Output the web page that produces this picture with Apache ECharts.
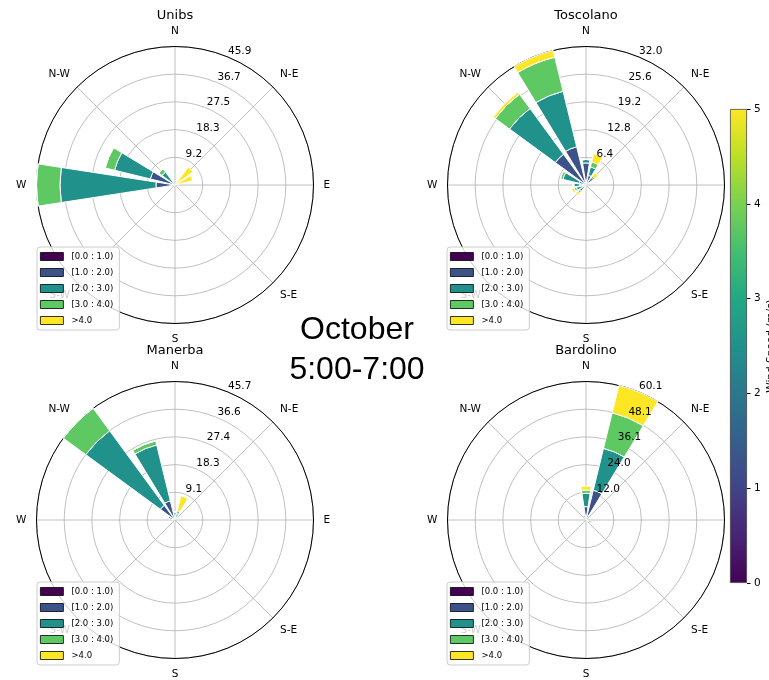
<!DOCTYPE html>
<html>
<head>
<meta charset="utf-8">
<script src="https://cdn.jsdelivr.net/npm/echarts@6/dist/echarts.min.js"></script>
<style>
  html, body { margin: 0; padding: 0; background: #fff; }
  #chart { width: 769px; height: 680px; }
</style>
</head>
<body>
<div id="chart"></div>
<script>
// 16 sectors, clockwise from north
const directions = ["N", "NNE", "NE", "ENE", "E", "ESE", "SE", "SSE",
  "S", "SSW", "SW", "WSW", "W", "WNW", "NW", "NNW"];
const compassLabels = ["N", "N-E", "E", "S-E", "S", "S-W", "W", "N-W"];
const speedBins = ["[0.0 : 1.0)", "[1.0 : 2.0)", "[2.0 : 3.0)", "[3.0 : 4.0)", ">4.0"];
const colorbarTicks = [0, 1, 2, 3, 4, 5];

const stations = ["Unibs", "Toscolano", "Manerba", "Bardolino"];
const radialMax = [45.85, 32.0, 45.7, 60.1];
const radialLabels = [
  ["9.2", "18.3", "27.5", "36.7", "45.9"],
  ["6.4", "12.8", "19.2", "25.6", "32.0"],
  ["9.1", "18.3", "27.4", "36.6", "45.7"],
  ["12.0", "24.0", "36.1", "48.1", "60.1"],
];

// frequency (%) per speed bin (rows) and direction (columns)
const unibs = [
  [0, 0, 0, 0, 0, 0, 0, 0, 0, 0, 0, 0, 0.3, 0.2, 0.1, 0],
  [0, 0, 0, 0, 0, 0, 0, 0, 0, 0, 0, 0, 6.0, 8.2, 0.6, 0],
  [0, 0, 0, 0, 0, 0, 0, 0, 0, 0, 0, 0, 31.8, 12.2, 4.6, 0],
  [0, 0, 0, 0, 0, 0, 0, 0, 0, 0, 0, 0, 7.75, 3.2, 1.4, 0],
  [0, 0, 7.4, 6.0, 0, 0, 0, 0, 0, 0, 0, 0, 0, 0, 0, 0],
];
const toscolano = [
  [0.2, 0.2, 0.1, 0, 0, 0, 0, 0, 0, 0, 0.1, 0.1, 0.2, 0.2, 0.3, 0.3],
  [4.9, 2.1, 0.8, 0, 0, 0, 0, 0, 0, 0.3, 0.6, 0.8, 1.2, 1.5, 8.5, 8.8],
  [0.8, 2.0, 1.2, 0, 0, 0, 0, 0, 0, 0.4, 1.2, 1.4, 1.4, 3.8, 13.1, 13.2],
  [0, 1.2, 0.4, 0, 0, 0, 0, 0, 0, 0.2, 0.4, 0.5, 0.2, 0.6, 4.1, 8.1],
  [0, 2.0, 1.0, 0, 0, 0, 0, 0, 0, 0.4, 0.6, 0.6, 0, 0, 0.6, 1.6],
];
const manerba = [
  [0.1, 0, 0, 0, 0, 0, 0, 0, 0, 0, 0, 0, 0, 0, 0.2, 0.2],
  [0.8, 0.6, 0.3, 0, 0, 0, 0, 0, 0, 0, 0, 0, 0, 0.6, 5.8, 6.3],
  [1.8, 1.6, 0.8, 0, 0, 0, 0, 0, 0, 0, 0, 0, 0, 1.8, 30.5, 19.0],
  [0, 1.0, 0.3, 0, 0, 0, 0, 0, 0, 0, 0, 0, 0, 0, 9.2, 1.4],
  [0, 5.0, 0, 0, 0, 0, 0, 0, 0, 0, 0, 0, 0, 0, 0, 0],
];
const bardolino = [
  [0.3, 2.0, 0, 0, 0, 0.2, 0.2, 0, 0, 0, 0, 0, 0, 0, 0, 0.8],
  [5.5, 11.3, 0, 0, 0, 0.8, 0.5, 0, 0, 0, 0, 0, 0, 0, 0, 1.5],
  [5.8, 18.7, 0, 0, 0, 1.4, 0.3, 0, 0, 0, 0, 0, 0, 0, 0, 0],
  [1.4, 15.9, 0, 0, 0, 0.4, 0, 0, 0, 0, 0, 0, 0, 0, 0, 0],
  [1.7, 12.2, 0, 0, 0, 0, 0, 0, 0, 0, 0, 0, 0, 0, 0, 0],
];
const stationData = [unibs, toscolano, manerba, bardolino];

const binColors = ["#440154", "#3b528b", "#21918c", "#5ec962", "#fde725"];
const viridisStops = ["#fde725", "#bddf26", "#7ad151", "#44bf70", "#22a884",
  "#21918c", "#2a788e", "#355f8d", "#414487", "#482475", "#440154"];

const FONT = "DejaVu Sans";
const R = 138.5;
const panels = [
  { center: [175, 185], legend: [37, 247] },
  { center: [586, 185], legend: [447, 247] },
  { center: [175, 520], legend: [37, 582] },
  { center: [586, 520], legend: [447, 582] },
];

const polar = [];
const angleAxis = [];
const radiusAxis = [];
const series = [];
const legend = [];
const graphic = [];

panels.forEach((p, k) => {
  const g = polar.length;
  polar.push(
    { center: p.center, radius: R },
    { center: p.center, radius: R },
    { center: p.center, radius: R },
  );

  // grid: spokes, rings, compass labels
  angleAxis.push({
    polarIndex: g, type: "value", min: 0, max: 360, interval: 45,
    startAngle: 90, clockwise: true, z: 1,
    axisLine: { lineStyle: { color: "#000", width: 1 } },
    axisTick: { show: false },
    axisLabel: {
      margin: 10, color: "#000", fontSize: 10.5, fontFamily: FONT,
      formatter: (v) => compassLabels[v / 45] || "",
    },
    splitLine: { show: true, lineStyle: { color: "#b0b0b0", width: 0.8 } },
  });
  radiusAxis.push({
    polarIndex: g, type: "value", min: 0, max: 5, interval: 1, z: 0,
    axisLine: { show: false }, axisTick: { show: false }, axisLabel: { show: false },
    splitLine: { show: true, lineStyle: { color: "#b0b0b0", width: 0.8 } },
  });

  // radial labels along 22.5 deg
  angleAxis.push({
    polarIndex: g + 1, type: "value", min: 0, max: 360,
    startAngle: 67.5, clockwise: true, show: false,
  });
  radiusAxis.push({
    polarIndex: g + 1, type: "value", min: 0, max: 5, interval: 1, z: 5,
    axisLine: { show: false }, axisTick: { show: false }, splitLine: { show: false },
    axisLabel: {
      margin: 0, align: "left", verticalAlign: "bottom",
      color: "#000", fontSize: 10.5, fontFamily: FONT,
      formatter: (v, i) => radialLabels[k][i - 1] || "",
    },
  });

  // bars
  angleAxis.push({
    polarIndex: g + 2, type: "category", data: directions,
    startAngle: 90 + 11.25, clockwise: true, show: false,
  });
  radiusAxis.push({
    polarIndex: g + 2, type: "value", min: 0, max: radialMax[k], show: false,
  });
  stationData[k].forEach((vals, b) => {
    series.push({
      type: "bar", name: speedBins[b], coordinateSystem: "polar",
      polarIndex: g + 2, stack: "s" + k, data: vals,
      barCategoryGap: "22%", z: 2,
      itemStyle: { color: binColors[b], borderColor: "#fff", borderWidth: 1 },
    });
  });

  legend.push({
    data: speedBins, orient: "vertical", left: p.legend[0], top: p.legend[1],
    itemWidth: 23, itemHeight: 8, itemGap: 7, padding: [5, 6, 5, 3],
    backgroundColor: "rgba(255,255,255,0.8)", borderColor: "#cccccc",
    borderWidth: 1, borderRadius: 3, icon: "rect", selectedMode: false,
    itemStyle: { borderColor: "#000", borderWidth: 0.8 },
    textStyle: { fontSize: 8.5, color: "#000", fontFamily: FONT, padding: [0, 0, 0, 3] },
  });

  graphic.push({
    type: "text", x: p.center[0], y: p.center[1] - 169,
    style: {
      text: stations[k], fontSize: 13, fontFamily: FONT, fill: "#000",
      align: "center", verticalAlign: "middle",
    },
  });
});

graphic.push({
  type: "text", x: 357, y: 350.5,
  style: {
    text: "October\n5:00-7:00", fontSize: 32, fontFamily: "Liberation Sans",
    fill: "#000", align: "center", verticalAlign: "middle", lineHeight: 40,
  },
});

// colorbar
series.push({
  type: "bar", xAxisIndex: 0, yAxisIndex: 0, data: [colorbarTicks[colorbarTicks.length - 1]],
  barWidth: "100%", silent: true, z: 10,
  itemStyle: {
    color: new echarts.graphic.LinearGradient(0, 0, 0, 1,
      viridisStops.map((c, i) => ({ offset: i / (viridisStops.length - 1), color: c }))),
    borderColor: "#444", borderWidth: 0.8,
  },
});

const chart = echarts.init(document.getElementById("chart"));
chart.setOption({
  animation: false,
  backgroundColor: "#fff",
  polar, angleAxis, radiusAxis, legend, graphic,
  grid: {
    left: 730, top: 109, width: 17, height: 474, z: 10,
    containLabel: false, outerBoundsMode: "none",
  },
  xAxis: { type: "category", data: [""], show: false },
  yAxis: {
    type: "value", position: "right", z: 10,
    min: colorbarTicks[0], max: colorbarTicks[colorbarTicks.length - 1], interval: 1,
    axisLine: { show: false },
    axisTick: { show: true, length: 3.5, lineStyle: { color: "#000" } },
    axisLabel: { margin: 7, fontSize: 10.5, color: "#000", fontFamily: FONT },
    splitLine: { show: false },
    name: "Wind Speed (m/s)", nameLocation: "middle", nameGap: 19, nameRotate: 90,
    nameTextStyle: { fontSize: 10.5, color: "#000", fontFamily: FONT },
  },
  series,
});
</script>
</body>
</html>
